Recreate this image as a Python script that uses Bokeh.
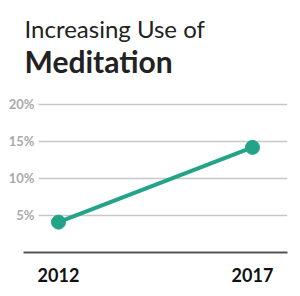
from bokeh.plotting import figure
from bokeh.models import Label, FixedTicker, Range1d, CustomJSTickFormatter
from bokeh.embed import file_html
from bokeh.resources import INLINE

# data
years = [2012, 2017]
pct = [4.1, 14.2]
y_ticks = [5, 10, 15, 20]
y_tick_labels = ["5%", "10%", "15%", "20%"]
title_line1 = "Increasing Use of"
title_line2 = "Meditation"

TEAL = "#23a387"
FONT = "Lato"

p = figure(width=300, height=296, output_backend="svg", toolbar_location=None,
           x_range=Range1d(2011.098, 2017.902), y_range=Range1d(0, 34.05),
           min_border_left=23, min_border_right=13, min_border_top=0,
           min_border_bottom=44)
p.outline_line_color = None
p.background_fill_color = "white"
p.border_fill_color = "white"
p.xgrid.visible = False
p.ygrid.visible = False

# gridlines starting to the right of the tick labels
grid_x0 = 2011.485
p.segment(x0=[grid_x0] * len(y_ticks), x1=[p.x_range.end] * len(y_ticks),
          y0=y_ticks, y1=y_ticks, line_color="#c8c8c8", line_width=1.5)

# data line
p.line(years, pct, line_color=TEAL, line_width=4)
p.scatter(years, pct, size=14, fill_color=TEAL, line_color=TEAL)

# y axis
yax = p.yaxis[0]
yax.ticker = FixedTicker(ticks=y_ticks)
yax.formatter = CustomJSTickFormatter(args=dict(t=y_ticks, l=y_tick_labels),
                                      code="const i = t.indexOf(tick); return i >= 0 ? l[i] : '';")
yax.axis_line_color = None
yax.major_tick_line_color = None
yax.minor_tick_line_color = None
yax.major_label_standoff = -17
yax.major_label_text_font = FONT
yax.major_label_text_font_size = "13px"
yax.major_label_text_font_style = "bold"
yax.major_label_text_color = "#aaaaaa"

# x axis
xax = p.xaxis[0]
xax.ticker = FixedTicker(ticks=years)
xax.axis_line_color = "#555555"
xax.axis_line_width = 2
xax.major_tick_line_color = None
xax.minor_tick_line_color = None
xax.major_label_standoff = 9
xax.major_label_text_font = FONT
xax.major_label_text_font_size = "18px"
xax.major_label_text_font_style = "bold"
xax.major_label_text_color = "#111111"

# titles
p.add_layout(Label(x=1, y=224, x_units="screen", y_units="screen", text=title_line1,
                   text_font=FONT, text_font_size="24px", text_color="#222222",
                   text_baseline="alphabetic"))
p.add_layout(Label(x=1, y=192, x_units="screen", y_units="screen", text=title_line2,
                   text_font=FONT, text_font_size="30px", text_font_style="bold",
                   text_color="#222222", text_baseline="alphabetic"))

open("out.html", "w").write(file_html(p, INLINE))
